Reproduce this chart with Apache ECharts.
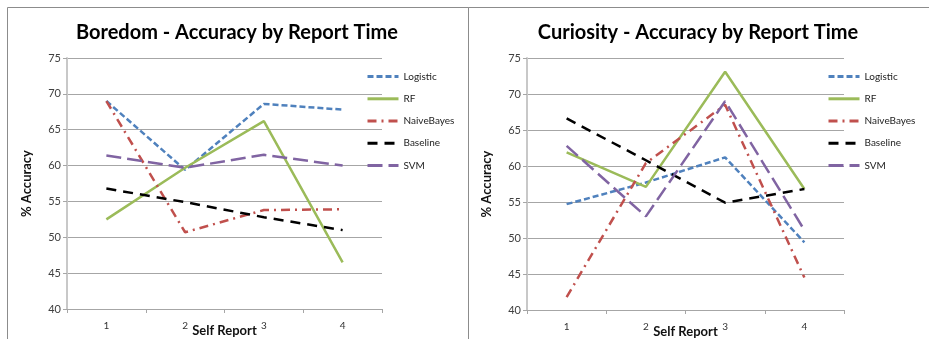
<!DOCTYPE html>
<html>
<head>
<meta charset="utf-8">
<script src="https://cdn.jsdelivr.net/npm/echarts@6/dist/echarts.min.js"></script>
<style>
html,body{margin:0;padding:0;background:#fff;}
#chart{width:929px;height:339px;}
</style>
</head>
<body>
<div id="chart"></div>
<script>
// ---- data ----
const categories = ['1', '2', '3', '4'];
const seriesNames = ['Logistic', 'RF', 'NaiveBayes', 'Baseline', 'SVM'];
const titles = ['Boredom - Accuracy by Report Time', 'Curiosity - Accuracy by Report Time'];
const xAxisTitle = 'Self Report';
const yAxisTitle = '% Accuracy';

const boredomLogistic   = [69.0, 59.4, 68.6, 67.8];
const boredomRF         = [52.5, 59.7, 66.2, 46.5];
const boredomNaiveBayes = [69.0, 50.7, 53.8, 53.9];
const boredomBaseline   = [56.8, 54.9, 52.8, 51.0];
const boredomSVM        = [61.4, 59.7, 61.5, 60.0];

const curiosityLogistic   = [54.7, 57.7, 61.2, 49.4];
const curiosityRF         = [61.9, 57.1, 73.1, 56.8];
const curiosityNaiveBayes = [41.8, 60.4, 68.5, 44.5];
const curiosityBaseline   = [66.6, 60.8, 54.9, 56.8];
const curiositySVM        = [62.8, 53.0, 69.0, 51.1];

const boredomData = [boredomLogistic, boredomRF, boredomNaiveBayes, boredomBaseline, boredomSVM];
const curiosityData = [curiosityLogistic, curiosityRF, curiosityNaiveBayes, curiosityBaseline, curiositySVM];

// ---- styles ----
const FONT = 'Lato, "Open Sans", sans-serif';
const lineStyles = [
  {color: '#4f81bd', width: 2.5, type: [6, 3]},
  {color: '#9bbb59', width: 2.5, type: 'solid'},
  {color: '#c0504d', width: 2.5, type: [9, 5, 2, 5]},
  {color: '#000000', width: 2.5, type: [10, 7]},
  {color: '#8064a2', width: 2.5, type: [15, 6]}
];

const grids = [
  {left: 67, top: 58, width: 315, height: 251, outerBoundsMode: 'none', containLabel: false},
  {left: 527, top: 58, width: 317, height: 252, outerBoundsMode: 'none', containLabel: false}
];

function makeX(i) {
  return {
    gridIndex: i, type: 'category', data: categories, boundaryGap: true,
    axisLine: {show: true, lineStyle: {color: '#a6a6a6', width: 1}},
    axisTick: {show: true, length: 4, lineStyle: {color: '#a6a6a6'}},
    axisLabel: {fontSize: 10, color: '#333', fontFamily: FONT, margin: 12},
    name: xAxisTitle, nameLocation: 'middle', nameGap: 15, nameMoveOverlap: false,
    nameTextStyle: {fontSize: 13, fontWeight: 'bold', color: '#111', fontFamily: FONT}
  };
}
function makeY(i) {
  return {
    gridIndex: i, type: 'value', min: 40, max: 75, interval: 5,
    axisLine: {show: true, lineStyle: {color: '#c8c8c8', width: 2}},
    axisTick: {show: true, length: 4, lineStyle: {color: '#a6a6a6'}},
    axisLabel: {fontSize: 11, color: '#404040', fontFamily: FONT, margin: 6},
    splitLine: {show: true, lineStyle: {color: '#a6a6a6', width: 1}},
    name: yAxisTitle, nameLocation: 'middle', nameGap: 34, nameRotate: 90, nameMoveOverlap: false,
    nameTextStyle: {fontSize: 13, fontWeight: 'bold', color: '#111', fontFamily: FONT}
  };
}

const series = [];
[boredomData, curiosityData].forEach((set, gi) => {
  set.forEach((vals, si) => {
    series.push({
      name: seriesNames[si], type: 'line', xAxisIndex: gi, yAxisIndex: gi,
      data: vals, symbol: 'none', lineStyle: lineStyles[si], itemStyle: {color: lineStyles[si].color},
      emphasis: {disabled: true}, animation: false
    });
  });
});

function makeLegend(left) {
  return {
    orient: 'vertical', left: left, top: 71, itemWidth: 31, itemHeight: 14, itemGap: 11,
    data: seriesNames,
    itemStyle: {opacity: 0, borderWidth: 0},
    lineStyle: {width: 3},
    textStyle: {fontSize: 10, color: '#222', fontFamily: FONT},
    selectedMode: false, padding: 0
  };
}

const chart = echarts.init(document.getElementById('chart'), null, {renderer: 'canvas'});
chart.setOption({
  backgroundColor: '#fff',
  animation: false,
  title: [
    {text: titles[0], left: 232, top: 18, textAlign: 'center',
     textStyle: {fontSize: 20, fontWeight: 'bold', color: '#000', fontFamily: FONT}},
    {text: titles[1], left: 693, top: 18, textAlign: 'center',
     textStyle: {fontSize: 20, fontWeight: 'bold', color: '#000', fontFamily: FONT}}
  ],
  legend: [makeLegend(366), makeLegend(827)],
  grid: grids,
  xAxis: [makeX(0), makeX(1)],
  yAxis: [makeY(0), makeY(1)],
  series: series,
  graphic: [
    {type: 'rect', shape: {x: 7.5, y: 7.5, width: 461, height: 340}, style: {fill: 'none', stroke: '#8c8c8c', lineWidth: 1}, silent: true, z: -1},
    {type: 'rect', shape: {x: 468.5, y: 7.5, width: 470, height: 340}, style: {fill: 'none', stroke: '#8c8c8c', lineWidth: 1}, silent: true, z: -1}
  ]
});
</script>
</body>
</html>
